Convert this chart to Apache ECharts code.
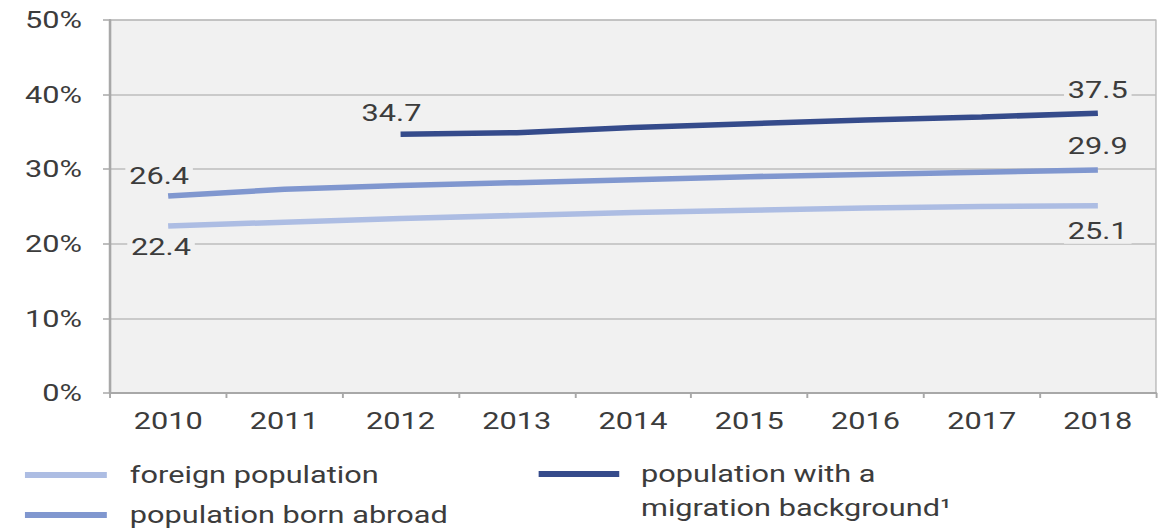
<!DOCTYPE html>
<html><head><meta charset="utf-8">
<script src="https://cdn.jsdelivr.net/npm/echarts@6/dist/echarts.min.js"></script>
<style>
html,body{margin:0;padding:0;background:#fff;overflow:hidden;}
#wrap{width:1163px;height:530px;overflow:hidden;}
#chart{width:909px;height:530px;transform:scaleX(1.27943);transform-origin:0 0;}
</style></head><body>
<div id="wrap"><div id="chart"></div></div>
<script>
const years = ['2010', '2011', '2012', '2013', '2014', '2015', '2016', '2017', '2018'];
const foreignPopulation = [22.4, 22.9, 23.4, 23.8, 24.2, 24.5, 24.8, 25.0, 25.1];
const bornAbroad = [26.4, 27.3, 27.8, 28.2, 28.6, 29.0, 29.3, 29.6, 29.9];
const migrationBackground = [null, null, 34.7, 34.9, 35.6, 36.1, 36.6, 37.0, 37.5];
const seriesNames = ['foreign population', 'population born abroad', 'population with a\nmigration background\u00b9'];
const seriesColors = ['#adbde3', '#8097cf', '#354b8b'];
// label centre offsets from the point, [first label, last label]
const labelOffsets = [
  [[-5.5, 21], [0, 25]],
  [[-7, -20], [0, -24]],
  [[-7, -21], [0, -23]]
];

const FONT = 'Roboto';
const TXT = '#3c3c3c';

function buildData(arr, offs) {
  let first = arr.findIndex(v => v !== null);
  let last = arr.length - 1;
  return arr.map((v, i) => {
    if (i === first || i === last) {
      const o = i === first ? offs[0] : offs[1];
      return {value: v, label: {show: true, position: o, align: 'center', verticalAlign: 'middle'}};
    }
    return v;
  });
}

const dataSets = [foreignPopulation, bornAbroad, migrationBackground];

const chart = echarts.init(document.getElementById('chart'), null, {renderer: 'svg'});
chart.setOption({
  animation: false,
  backgroundColor: '#ffffff',
  textStyle: {fontFamily: FONT},
  grid: {left: 86, right: 5.5, top: 20, bottom: 137, show: true, backgroundColor: '#f1f1f1', borderColor: '#b4b4b4', borderWidth: 1},
  legend: [
    {
      data: [seriesNames[0], seriesNames[1]],
      orient: 'vertical', left: 19.5, top: 463, padding: 0,
      itemWidth: 64, itemHeight: 6, itemGap: 16,
      icon: 'rect',
      textStyle: {fontFamily: FONT, fontSize: 24, color: TXT, lineHeight: 24, padding: [0, 0, 0, 13]}
    },
    {
      data: [seriesNames[2]],
      orient: 'vertical', left: 421, top: 423, padding: 0,
      itemWidth: 63, itemHeight: 6,
      icon: 'rect',
      formatter: name => '\n' + name,
      textStyle: {fontFamily: FONT, fontSize: 24, color: TXT, lineHeight: 34, padding: [0, 0, 0, 12]}
    }
  ],
  xAxis: {
    type: 'category',
    data: years,
    boundaryGap: true,
    axisLine: {lineStyle: {color: '#a8a8a8', width: 2}},
    axisTick: {show: true, length: 5, lineStyle: {color: '#a8a8a8', width: 1.5}},
    axisLabel: {fontFamily: FONT, fontSize: 24, color: TXT, margin: 16}
  },
  yAxis: {
    type: 'value',
    min: 0, max: 50, interval: 10,
    axisLine: {show: true, lineStyle: {color: '#a8a8a8', width: 2}},
    axisTick: {show: true, length: 5.5, lineStyle: {color: '#a8a8a8', width: 1.5}},
    axisLabel: {fontFamily: FONT, fontSize: 24, color: TXT, margin: 22, formatter: '{value}%'},
    splitLine: {lineStyle: {color: '#bcbcbc', width: 1.5}}
  },
  series: dataSets.map((arr, k) => ({
    name: seriesNames[k],
    type: 'line',
    data: buildData(arr, labelOffsets[k]),
    symbol: 'circle',
    symbolSize: 0.1,
    showSymbol: true,
    connectNulls: false,
    lineStyle: {color: seriesColors[k], width: 5.5},
    itemStyle: {color: seriesColors[k]},
    labelLayout: {hideOverlap: false},
    label: {
      show: false,
      fontFamily: FONT, fontSize: 24, color: TXT,
      backgroundColor: '#f1f1f1', padding: [1, 3],
      formatter: p => Number(p.value).toFixed(1)
    }
  }))
});
</script>
</body></html>
